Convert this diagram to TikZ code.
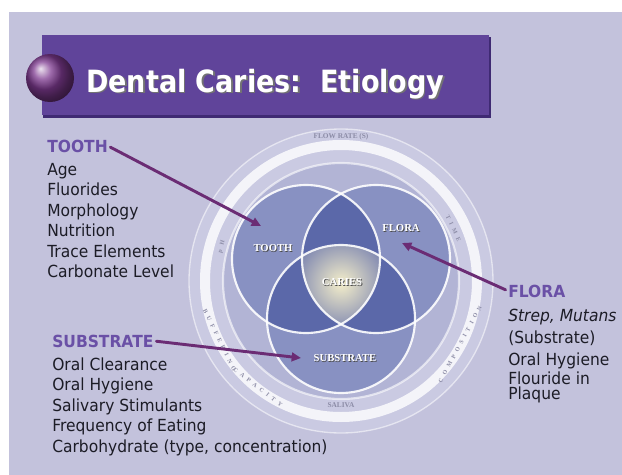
\documentclass[tikz,border=0pt]{standalone}
\usepackage{fontspec}
\newfontfamily\slidefont[FakeStretch=0.93]{DejaVu Sans}
\newfontfamily\titlefont[FakeStretch=0.88]{DejaVu Sans}
\newfontfamily\labelfont{Liberation Serif}
\newfontfamily\ringfont[LetterSpace=70]{Liberation Serif}
\usetikzlibrary{arrows.meta,shadings}
\definecolor{slidebg}{HTML}{C3C2DC}
\definecolor{banner}{HTML}{60449A}
\definecolor{bannerdark}{HTML}{3F2A73}
\definecolor{spherecol}{HTML}{7E3A90}
\definecolor{headcol}{HTML}{6A50A6}
\definecolor{bodytext}{HTML}{1C1C26}
\definecolor{arrowcol}{HTML}{6B2C74}
\definecolor{ringdisc}{HTML}{CACAE2}
\definecolor{innerdisc}{HTML}{B2B4D5}
\definecolor{petal}{HTML}{8891C2}
\definecolor{overlap}{HTML}{5B68A9}
\definecolor{core}{HTML}{F4EECA}
\definecolor{ringtext}{HTML}{8C8CA6}
\begin{document}
\begin{tikzpicture}[x=0.75pt,y=-0.75pt,
  body/.style={font=\slidefont\fontsize{12.5}{15}\selectfont, text=bodytext, anchor=base west, inner sep=0pt},
  bodyit/.style={body, font=\slidefont\itshape\fontsize{12.5}{15}\selectfont},
  head/.style={font=\slidefont\bfseries\fontsize{12.5}{15}\selectfont, text=headcol, anchor=base west, inner sep=0pt},
  titletext/.style={font=\titlefont\bfseries\fontsize{23}{26}\selectfont, text=white, anchor=base west, inner sep=0pt},
  titleshadow/.style={titletext, text=black!55},
  clabel/.style={font=\labelfont\bfseries\fontsize{8}{8}\selectfont, text=white, inner sep=0pt},
  clshadow/.style={clabel, text=black!70},
  ringlabel/.style={font=\labelfont\bfseries\fontsize{5.5}{5.5}\selectfont, text=ringtext, inner sep=0pt},
  ringspaced/.style={font=\ringfont\bfseries\fontsize{4.5}{4.5}\selectfont, text=ringtext, inner sep=0pt},
  vennline/.style={draw=white, opacity=.9, line width=1.6pt},
  arrowline/.style={draw=arrowcol, line width=2.2pt, line cap=round, -{Triangle[length=7pt,width=6.5pt]}}
]
\useasboundingbox (0,0) rectangle (622,475);
\fill[white] (0,0) rectangle (622,475);
\fill[slidebg] (9,12) rectangle (622,475);

% title banner
\fill[bannerdark] (43,37) rectangle (491,118);
\fill[banner] (42,35) rectangle (489,115);
\shade[ball color=spherecol] (50,78) circle (24);
\node[titleshadow] (titleS) at (87.5,93.5) {Dental Caries:\ \ Etiology};
\node[titletext] (title) at (86,92) {Dental Caries:\ \ Etiology};

% saliva ring
\coordinate (ctr) at (341,281);
\fill[ringdisc] (ctr) circle (152);
\draw[white, opacity=.55, line width=1pt] (ctr) circle (152);
\draw[white, opacity=.8, line width=7.5pt] (ctr) circle (136);
\fill[innerdisc] (ctr) circle (118);
\draw[white, opacity=.6, line width=1.6pt] (ctr) circle (118);
\begin{scope}[shift={(ctr)}, x=0.75pt, y=0.75pt]
  \node[ringlabel, rotate=0] (rFlow) at (90:144) {FLOW RATE (S)};
  \node[ringlabel, rotate=0] (rSaliva) at (270:124) {SALIVA};
  \node[ringspaced, rotate=-64] (rBuffer) at (206:135) {BUFFERING};
  \node[ringspaced, rotate=-38] (rCapacity) at (232:135) {CAPACITY};
  \node[ringspaced, rotate=62] (rComp) at (-28:135) {COMPOSITION};
  \node[ringspaced, rotate=74] (rPH) at (164:124) {pH};
  \node[ringspaced, rotate=-65] (rTime) at (25:124) {TIME};
\end{scope}

% Venn circles
\coordinate (cT) at (306,259);
\coordinate (cF) at (376,259);
\coordinate (cS) at (341,319);
\fill[petal] (cT) circle (74);
\fill[petal] (cF) circle (74);
\fill[petal] (cS) circle (74);
\begin{scope}
  \clip (cT) circle (74);
  \fill[overlap] (cF) circle (74);
  \fill[overlap] (cS) circle (74);
\end{scope}
\begin{scope}
  \clip (cF) circle (74);
  \fill[overlap] (cS) circle (74);
\end{scope}
\begin{scope}
  \clip (cT) circle (74);
  \clip (cF) circle (74);
  \clip (cS) circle (74);
  \shade[inner color=core, outer color=overlap] (341,283) circle (62);
\end{scope}
\draw[vennline] (cT) circle (74);
\draw[vennline] (cF) circle (74);
\draw[vennline] (cS) circle (74);

% circle labels
\node[clshadow] (toothLs) at (273.8,248.8) {TOOTH};
\node[clabel] (toothL) at (273,248) {TOOTH};
\node[clshadow] (floraLs) at (401.8,228.8) {FLORA};
\node[clabel] (floraL) at (401,228) {FLORA};
\node[clshadow] (cariesLs) at (342.8,282.8) {CARIES};
\node[clabel] (cariesL) at (342,282) {CARIES};
\node[clshadow] (substLs) at (345.8,358.8) {SUBSTRATE};
\node[clabel] (substL) at (345,358) {SUBSTRATE};

% TOOTH block
\node[head] (toothH) at (47,152) {TOOTH};
\node[body] (t1) at (47,175) {Age};
\node[body] (t2) at (47,195.5) {Fluorides};
\node[body] (t3) at (47,216) {Morphology};
\node[body] (t4) at (47,236.5) {Nutrition};
\node[body] (t5) at (47,257) {Trace Elements};
\node[body] (t6) at (47,277.5) {Carbonate Level};

% SUBSTRATE block
\node[head] (substH) at (52,347) {SUBSTRATE};
\node[body] (s1) at (52,370) {Oral Clearance};
\node[body] (s2) at (52,390.5) {Oral Hygiene};
\node[body] (s3) at (52,411) {Salivary Stimulants};
\node[body] (s4) at (52,431.5) {Frequency of Eating};
\node[body] (s5) at (52,452) {Carbohydrate (type, concentration)};

% FLORA block
\node[head] (floraH) at (508,297) {FLORA};
\node[bodyit] (f1) at (508,321) {Strep, Mutans};
\node[body] (f2) at (508,343) {(Substrate)};
\node[body] (f3) at (508,365) {Oral Hygiene};
\node[body] (f4) at (508,384) {Flouride in};
\node[body] (f5) at (508,399) {Plaque};

% arrows
\coordinate (tTip) at (261,226);
\coordinate (fTip) at (402,243);
\coordinate (sTip) at (301,358);
\draw[arrowline, shorten <=2pt] (toothH.east) -- (tTip);
\draw[arrowline, shorten <=2pt] (floraH.west) -- (fTip);
\draw[arrowline, shorten <=2pt] (substH.east) -- (sTip);
\end{tikzpicture}
\end{document}
